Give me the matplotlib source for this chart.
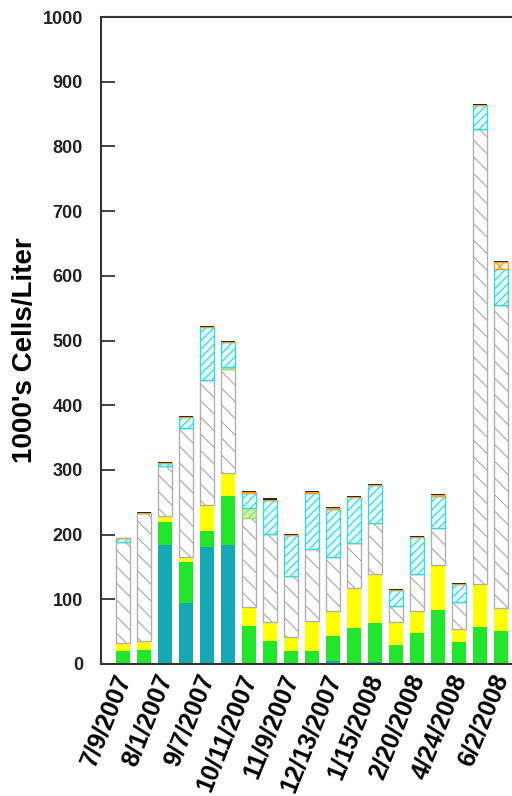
import numpy as np
import matplotlib
matplotlib.use("Agg")
import matplotlib.pyplot as plt
import matplotlib.transforms as mtransforms

plt.rcParams['font.family'] = ['Liberation Sans', 'DejaVu Sans']
plt.rcParams['hatch.linewidth'] = 0.9

# ---- data ----
date_labels = ["7/9/2007", "8/1/2007", "9/7/2007", "10/11/2007", "11/9/2007",
               "12/13/2007", "1/15/2008", "2/20/2008", "4/24/2008", "6/2/2008"]
n_bars = 19

teal   = [0, 0, 184, 95, 181, 184, 0, 0, 0, 0, 4, 0, 3, 0, 2, 0, 0, 0, 0]
green  = [20, 21, 35, 63, 25, 76, 59, 36, 20.6, 20.6, 39, 56, 60, 30, 45.5, 83.6, 34.5, 57.8, 51.5]
yellow = [12, 14, 10, 8, 40, 35, 29, 29.5, 20.4, 46.4, 39, 62, 76, 34.5, 34.5, 69.4, 19.2, 66.2, 35.5]
white  = [157, 198, 76.5, 198, 192.6, 161, 137, 135.3, 95, 111, 83, 69, 79, 25.5, 57, 57, 42.3, 702.6, 467.7]
lgreen = [0, 0, 0, 0, 0, 3, 16, 0, 0, 0, 0, 0, 0, 0, 0, 0, 0, 0, 0]
cyan   = [5, 0, 5, 17, 82.4, 39, 24, 53.2, 63.7, 86, 75, 71, 58.6, 24.5, 57, 49, 27, 37.2, 56.3]
orange = [0, 0, 0, 0, 0, 0, 1, 0, 0, 1.5, 1.5, 0, 0, 0, 0, 2, 0, 0, 10]
black  = [1.5, 2, 2, 2, 2, 1.5, 1.5, 2, 1.5, 1.5, 1, 2, 2, 1.5, 2, 2, 2, 1.5, 1.5]

y_ticks = [0, 100, 200, 300, 400, 500, 600, 700, 800, 900, 1000]

# ---- figure ----
fig = plt.figure(figsize=(5.12, 7.96), dpi=100)
ax = fig.add_axes([101/512, 132/796, 422/512, 647/796])

x = np.arange(n_bars)
w = 0.67
series = [
    (teal,   dict(color='#17A8B5', linewidth=0)),
    (green,  dict(color='#22E62C', linewidth=0)),
    (yellow, dict(color='#FFFF00', linewidth=0)),
    (white,  dict(facecolor='white', edgecolor='#B0B0B0', hatch='\\\\', linewidth=1.0)),
    (lgreen, dict(facecolor='#C6F2AA', edgecolor='#98DD78', hatch='////', linewidth=1.0)),
    (cyan,   dict(facecolor='#E6FBFC', edgecolor='#3CD8E2', hatch='////', linewidth=1.0)),
    (orange, dict(facecolor='#FFF2DC', edgecolor='#F0A030', hatch='x', linewidth=1.0)),
    (black,  dict(color='#2A2A2A', linewidth=0)),
]
bottom = np.zeros(n_bars)
for vals, style in series:
    v = np.array(vals, dtype=float)
    ax.bar(x, v, width=w, bottom=bottom, **style)
    bottom += v

ax.set_xlim(-1.05, 19.05)
ax.set_ylim(0, 1000)
ax.set_yticks(y_ticks)
ax.set_yticklabels([str(t) for t in y_ticks], fontsize=13, fontweight='bold')
ax.tick_params(axis='y', direction='in', length=10, width=1.2, pad=13, colors='#222222')

tick_pos = x[::2]
ax.set_xticks(tick_pos)
ax.set_xticklabels(date_labels, fontsize=18, fontweight='bold', rotation=68,
                   ha='right', va='center', rotation_mode='anchor')
ax.tick_params(axis='x', length=0, pad=8)
offset = mtransforms.ScaledTranslation(1/100, 0, fig.dpi_scale_trans)
for lab in ax.get_xticklabels():
    lab.set_transform(lab.get_transform() + offset)

for s in ['left', 'top', 'bottom']:
    ax.spines[s].set_linewidth(1.5)
    ax.spines[s].set_color('#333333')
ax.spines['right'].set_visible(False)

fig.text(25/512, 1 - 350/796, "1000's Cells/Liter", rotation=90, ha='center', va='center',
         fontsize=20, fontweight='bold')

fig.savefig('out.png', dpi=100)
